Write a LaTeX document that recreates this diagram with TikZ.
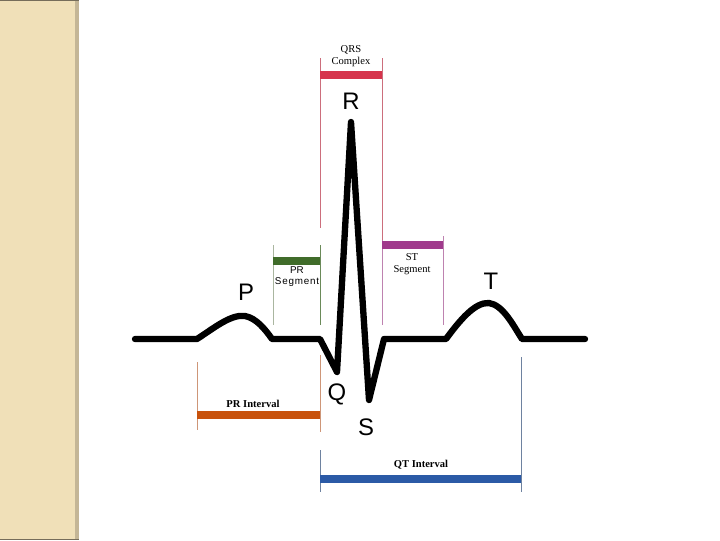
\documentclass[tikz,border=0pt]{standalone}
\usepackage{fontspec}
\setmainfont{Liberation Serif}
\setsansfont{Liberation Sans}
\usetikzlibrary{positioning}
\definecolor{stripbeige}{RGB}{240,224,184}
\definecolor{stripedge}{RGB}{196,182,150}
\definecolor{qrsred}{RGB}{214,52,76}
\definecolor{qrsline}{RGB}{204,110,124}
\definecolor{prgreen}{RGB}{64,108,42}
\definecolor{prline}{RGB}{170,182,160}
\definecolor{stpurple}{RGB}{160,58,140}
\definecolor{stline}{RGB}{190,130,176}
\definecolor{prorange}{RGB}{200,82,12}
\definecolor{proline}{RGB}{206,150,120}
\definecolor{qtblue}{RGB}{43,90,166}
\definecolor{qtline}{RGB}{110,130,160}

\begin{document}
\begin{tikzpicture}[x=0.025cm,y=-0.025cm,
  ecg/.style={line width=4.5pt,line join=round,line cap=round},
  guide/.style={line width=0.7pt},
  bar/.style={line width=5pt},
  wave/.style={font=\sffamily\fontsize{17}{17}\selectfont,inner sep=0pt},
  tag/.style={font=\fontsize{7.5}{9}\selectfont,align=center,inner sep=0pt}]
\useasboundingbox (0,0) rectangle (720,540);
% side strip
\fill[stripbeige] (0,0) rectangle (77,540);
\fill[stripedge] (75,0) rectangle (79,540);
\draw[stripedge!60!black,line width=0.8pt] (0,0.5) -- (79,0.5) (0,539.5) -- (79,539.5);

% QRS complex
\draw[guide,qrsline] (320,58) -- (320,228) (382,58) -- (382,240);
\draw[bar,qrsred] (320,75) -- (382,75);
\node[tag] (qrs) at (351,56) {QRS\\Complex};

% PR segment
\draw[guide,prline] (273,245) -- (273,325);
\draw[guide,prgreen!60!prline] (320,245) -- (320,325);
\draw[bar,prgreen] (273,261) -- (320,261);
\node[tag,font=\sffamily\fontsize{7}{8}\selectfont] (prseg) at (297,277)
  {PR\\\addfontfeature{LetterSpace=8}Segment};

% ST segment
\draw[guide,stline] (382,240) -- (382,325) (443,236) -- (443,325);
\draw[bar,stpurple] (382,245) -- (443,245);
\node[tag] (stseg) at (412,264) {ST\\Segment};

% PR interval
\draw[guide,proline] (197,362) -- (197,430) (320,355) -- (320,432);
\draw[bar,prorange] (197,415) -- (320,415);
\node[tag,font=\bfseries\fontsize{7.5}{9}\selectfont] (print) at (253,404) {PR Interval};

% QT interval
\draw[guide,qtline] (320,450) -- (320,492) (521,357) -- (521,492);
\draw[bar,qtblue] (320,479) -- (521,479);
\node[tag,font=\bfseries\fontsize{7.5}{9}\selectfont] (qtint) at (421,465) {QT Interval};

% trace
\draw[ecg] (135,339) -- (197,339)
  .. controls (214,328) and (231,314) .. (245,316)
  .. controls (256,318) and (265,329) .. (272,339)
  -- (320,339) -- (337,372) -- (351,122) -- (369,400) -- (384,339)
  -- (446,339)
  .. controls (460,320) and (475,302) .. (489,303)
  .. controls (503,305) and (513,325) .. (522,339)
  -- (585,339);

% wave names
\node[wave] (r) at (351,101) {R};
\node[wave] (p) at (246,292) {P};
\node[wave] (t) at (491,281) {T};
\node[wave] (q) at (337,394) {Q};
\node[wave] (s) at (366,427) {S};
\end{tikzpicture}
\end{document}
